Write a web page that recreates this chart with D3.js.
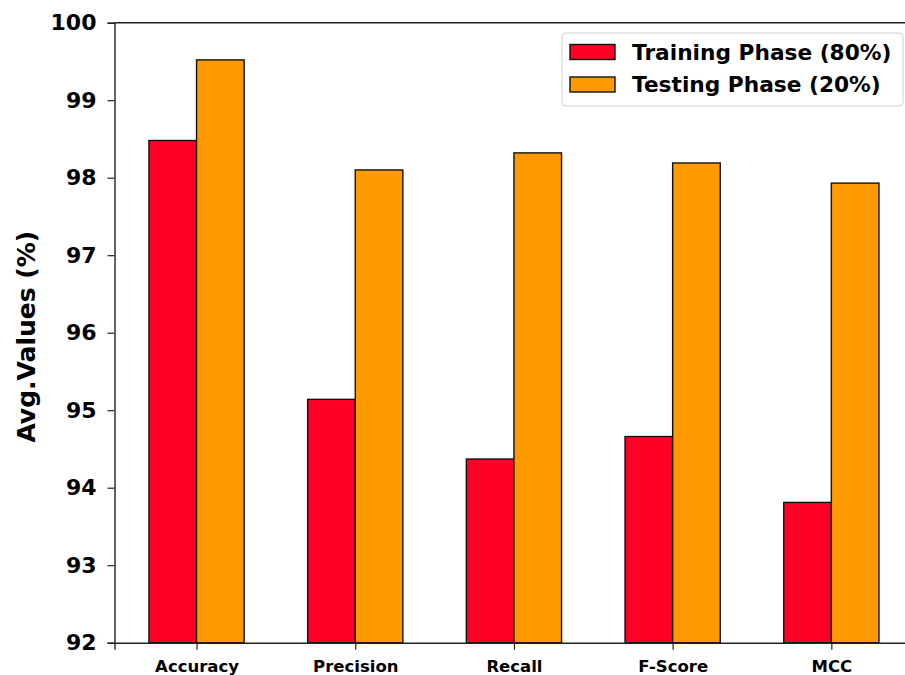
<!DOCTYPE html>
<html>
<head>
<meta charset="utf-8">
<script src="https://cdn.jsdelivr.net/npm/d3@7"></script>
<style>
  html, body { margin: 0; padding: 0; background: #fff; }
  svg { display: block; }
  text { font-family: "DejaVu Sans", sans-serif; font-weight: bold; fill: #000; }
</style>
</head>
<body>
<svg id="chart" width="905" height="675"></svg>
<script>
// Metric names along the x axis
const categories = ["Accuracy", "Precision", "Recall", "F-Score", "MCC"];
// Average values (%) per phase
const trainingValues = [98.48, 95.14, 94.37, 94.66, 93.81];
const testingValues  = [99.52, 98.10, 98.32, 98.19, 97.93];
const seriesNames = ["Training Phase (80%)", "Testing Phase (20%)"];
const yTicks = [92, 93, 94, 95, 96, 97, 98, 99, 100];

const colors = ["#ff0027", "#ff9900"];
const barWidth = 0.3;

const svg = d3.select("#chart");

const plot = { left: 114.5, top: 22.7, bottom: 642.7 };
const unitPx = 158.7;

const x = d3.scaleLinear()
  .domain([-0.517, 4.517])
  .range([plot.left, plot.left + 5.034 * unitPx]);
const y = d3.scaleLinear().domain([92, 100]).range([plot.bottom, plot.top]);

const series = [trainingValues, testingValues];

// Bars: training on the left of each tick, testing on the right
series.forEach((vals, s) => {
  svg.append("g")
    .selectAll("rect")
    .data(vals)
    .join("rect")
    .attr("x", (d, i) => x(i + (s === 0 ? -barWidth : 0)))
    .attr("width", x(barWidth) - x(0))
    .attr("y", d => y(d))
    .attr("height", d => y(92) - y(d))
    .attr("fill", colors[s])
    .attr("stroke", "#111")
    .attr("stroke-width", 1.4);
});

// Y axis
const yAxis = svg.append("g")
  .attr("transform", `translate(${plot.left},0)`)
  .call(d3.axisLeft(y).tickValues(yTicks).tickFormat(d3.format("d")).tickSize(7).tickPadding(11));
yAxis.selectAll("text").style("font-size", "22px").style("font-family", "DejaVu Sans").style("font-weight", "bold");

// X axis
const xAxis = svg.append("g")
  .attr("transform", `translate(0,${plot.bottom})`)
  .call(d3.axisBottom(x).tickValues(d3.range(categories.length)).tickFormat(i => categories[i]).tickSize(7).tickPadding(10.5));
xAxis.selectAll("text").style("font-size", "16.5px").style("font-family", "DejaVu Sans").style("font-weight", "bold");

[yAxis, xAxis].forEach(g => {
  g.select(".domain").attr("stroke", "#222").attr("stroke-width", 1.4);
  g.selectAll(".tick line").attr("stroke", "#222").attr("stroke-width", 1.2);
});

// Top spine
svg.append("line")
  .attr("x1", plot.left).attr("x2", x(4.517))
  .attr("y1", plot.top).attr("y2", plot.top)
  .attr("stroke", "#222").attr("stroke-width", 1.4);

// Y axis title
svg.append("text")
  .attr("transform", `translate(35,${(plot.top + plot.bottom) / 2 + 4}) rotate(-90)`)
  .attr("text-anchor", "middle")
  .style("font-size", "25px")
  .text("Avg.Values (%)");

// Legend
const legend = svg.append("g");
legend.append("rect")
  .attr("x", 562).attr("y", 33).attr("width", 341).attr("height", 73)
  .attr("rx", 4).attr("fill", "#fff").attr("fill-opacity", 0.85)
  .attr("stroke", "#d0d0d0").attr("stroke-width", 1);
seriesNames.forEach((name, i) => {
  const cy = 52 + i * 32.5;
  legend.append("rect")
    .attr("x", 570).attr("y", cy - 7.5).attr("width", 45).attr("height", 15)
    .attr("fill", colors[i]).attr("stroke", "#111").attr("stroke-width", 1.4);
  legend.append("text")
    .attr("x", 632).attr("y", cy + 7.8)
    .style("font-size", "21.7px")
    .text(name);
});
</script>
</body>
</html>
